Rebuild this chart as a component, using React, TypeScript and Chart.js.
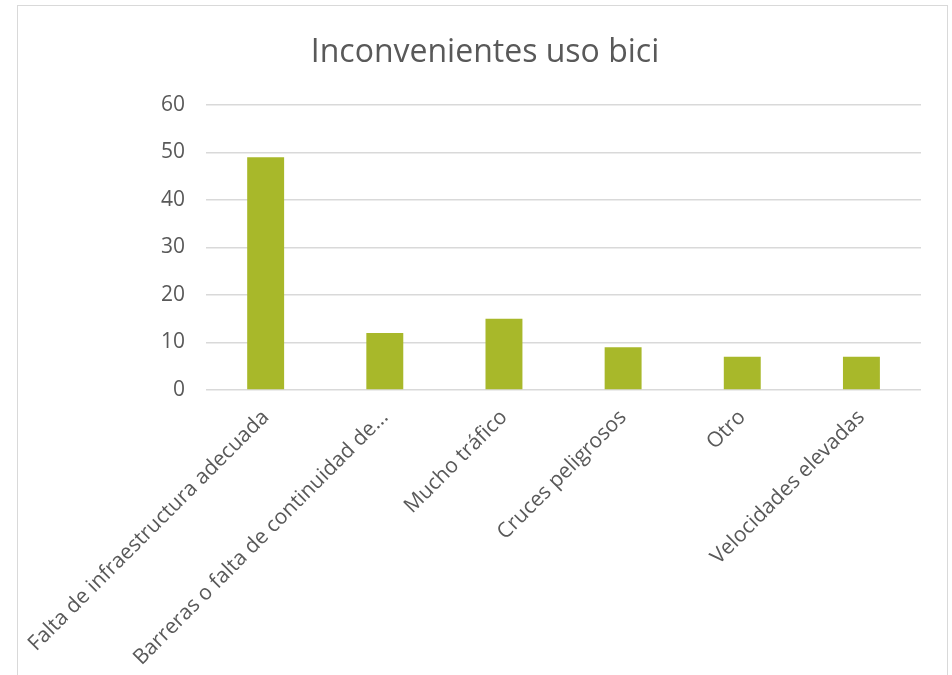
import React, { useEffect, useRef } from "react";
import { Chart, registerables } from "chart.js";

Chart.register(...registerables);

const categories = [
  "Falta de infraestructura adecuada",
  "Barreras o falta de continuidad de...",
  "Mucho tráfico",
  "Cruces peligrosos",
  "Otro",
  "Velocidades elevadas",
];
const values = [49, 12, 15, 9, 7, 7];
const titleText = "Inconvenientes uso bici";
const yMin = 0;
const yMax = 60;
const yStep = 10;

export default function App() {
  const ref = useRef<HTMLCanvasElement | null>(null);
  useEffect(() => {
    if (!ref.current) return;
    const font = "'Open Sans', 'Noto Sans', sans-serif";
    const chart = new Chart(ref.current, {
      type: "bar",
      data: {
        labels: categories,
        datasets: [
          {
            data: values,
            backgroundColor: "#A8B82A",
            borderWidth: 0,
            barPercentage: 0.31,
            categoryPercentage: 1,
            yAxisID: "y",
          },
        ],
      },
      options: {
        animation: false,
        responsive: false,
        layout: { padding: { left: 18, right: 0, top: 0, bottom: 0 } },
        plugins: {
          legend: { display: false },
          tooltip: { enabled: false },
          title: {
            display: true,
            text: titleText,
            color: "#595959",
            font: { family: font, size: 32, weight: "normal" as any, lineHeight: 1.2 },
            padding: { top: 34, bottom: 32.6 },
          },
        },
        scales: {
          x: {
            grid: { display: false, drawTicks: false },
            border: { display: false },
            ticks: {
              color: "#595959",
              font: { family: font, size: 21 },
              minRotation: 45,
              maxRotation: 45,
              autoSkip: false,
              padding: 15,
            },
            afterFit: (scale: any) => {
              scale.height = 285;
            },
          },
          y: {
            min: yMin,
            max: yMax,
            grid: { color: "#d9d9d9", lineWidth: 1.5, drawTicks: false },
            border: { display: false },
            ticks: {
              stepSize: yStep,
              color: "#595959",
              font: { family: font, size: 21 },
              padding: 21,
            },
            afterFit: (scale: any) => {
              scale.width = 187;
            },
          },
          yRight: {
            position: "right",
            min: yMin,
            max: yMax,
            grid: { display: false, drawTicks: false },
            border: { display: false },
            ticks: { display: false },
            afterFit: (scale: any) => {
              scale.width = 31;
            },
          },
        },
      },
    });
    return () => chart.destroy();
  }, []);
  return (
    <div
      style={{
        position: "absolute",
        left: 0,
        top: 0,
        width: 952,
        height: 675,
        background: "#fff",
        overflow: "hidden",
      }}
    >
      <canvas
        ref={ref}
        width={952}
        height={675}
        style={{ position: "absolute", left: 0, top: 0, width: 952, height: 675 }}
      />
      <div
        style={{
          position: "absolute",
          left: 17,
          top: 5,
          width: 931,
          height: 700,
          border: "1.5px solid #d9d9d9",
          boxSizing: "border-box",
          pointerEvents: "none",
        }}
      />
    </div>
  );
}
